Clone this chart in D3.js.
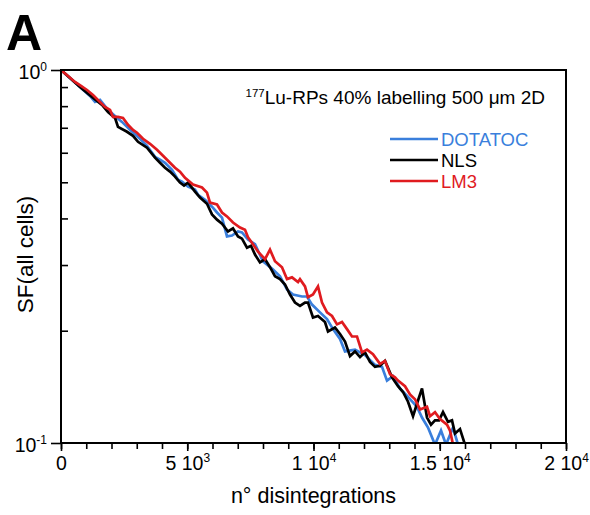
<!DOCTYPE html>
<html>
<head>
<meta charset="utf-8">
<script src="https://cdn.jsdelivr.net/npm/d3@7"></script>
<style>
  body { margin: 0; background: #fff; }
  text { font-family: "Liberation Sans", Arial, sans-serif; }
</style>
</head>
<body>
<svg id="chart"></svg>
<script>
// survival fraction vs number of disintegrations
const dotatocX = [0, 356, 752, 1149, 1347, 1545, 1861, 2139, 2416, 2733, 3129, 3406, 3723, 3921, 4119, 4396, 4634, 4792, 5030, 5307, 5426, 5703, 5980, 6178, 6376, 6574, 6772, 7010, 7168, 7406, 7683, 8000, 8396, 8673, 8950, 9188, 9545, 9743, 9941, 10257, 10535, 10772, 11050, 11248, 11644, 12040, 12436, 12713, 12911, 13149, 13426, 13743, 14099, 14297, 14535, 14812, 15050, 15248, 15525, 15723];
const dotatocSF = [1, 0.952, 0.901, 0.852, 0.821, 0.831, 0.782, 0.753, 0.726, 0.691, 0.654, 0.626, 0.585, 0.575, 0.564, 0.540, 0.508, 0.502, 0.487, 0.478, 0.463, 0.449, 0.430, 0.415, 0.402, 0.358, 0.360, 0.369, 0.367, 0.351, 0.341, 0.307, 0.292, 0.280, 0.258, 0.250, 0.247, 0.247, 0.235, 0.224, 0.215, 0.202, 0.190, 0.176, 0.178, 0.172, 0.162, 0.160, 0.147, 0.151, 0.140, 0.133, 0.125, 0.117, 0.110, 0.099, 0.108, 0.099, 0.110, 0.099];

const nlsX = [0, 356, 752, 1228, 1624, 1861, 2139, 2257, 2614, 2851, 3050, 3406, 3723, 3921, 4119, 4317, 4515, 4713, 4871, 5030, 5307, 5505, 5782, 5980, 6178, 6376, 6614, 6812, 7010, 7168, 7366, 7525, 7683, 7881, 8079, 8277, 8475, 8673, 8871, 9069, 9267, 9465, 9663, 9782, 9980, 10178, 10455, 10574, 10851, 11050, 11248, 11446, 11644, 11842, 12040, 12238, 12436, 12634, 12832, 13109, 13347, 13545, 13743, 13941, 14139, 14297, 14495, 14653, 14812, 14970, 15129, 15327, 15485, 15604, 15802, 16000];
const nlsSF = [1, 0.952, 0.901, 0.847, 0.806, 0.772, 0.744, 0.704, 0.683, 0.666, 0.642, 0.619, 0.582, 0.564, 0.547, 0.534, 0.518, 0.499, 0.490, 0.499, 0.472, 0.455, 0.438, 0.410, 0.397, 0.387, 0.369, 0.376, 0.358, 0.353, 0.334, 0.338, 0.320, 0.305, 0.311, 0.296, 0.280, 0.275, 0.266, 0.250, 0.238, 0.233, 0.238, 0.238, 0.217, 0.219, 0.211, 0.199, 0.204, 0.196, 0.187, 0.171, 0.176, 0.170, 0.175, 0.165, 0.160, 0.161, 0.166, 0.150, 0.142, 0.137, 0.129, 0.118, 0.130, 0.140, 0.117, 0.112, 0.115, 0.115, 0.121, 0.114, 0.115, 0.106, 0.109, 0.099];

const lm3X = [0, 277, 554, 792, 1030, 1267, 1545, 1743, 1941, 2059, 2257, 2455, 2653, 2851, 3010, 3248, 3525, 3802, 4119, 4317, 4515, 4713, 4911, 5228, 5584, 5782, 5901, 6178, 6376, 6574, 6812, 7089, 7287, 7406, 7604, 7802, 8079, 8277, 8475, 8752, 8950, 9149, 9386, 9465, 9663, 9782, 9980, 10178, 10337, 10535, 10733, 10931, 11129, 11327, 11525, 11723, 11921, 12119, 12356, 12634, 12832, 13030, 13228, 13347, 13624, 13822, 14020, 14218, 14495, 14614, 14812, 15010, 15287, 15406, 15525];
const lm3SF = [1, 0.964, 0.929, 0.906, 0.884, 0.857, 0.821, 0.796, 0.782, 0.749, 0.749, 0.744, 0.713, 0.691, 0.679, 0.654, 0.634, 0.611, 0.582, 0.564, 0.547, 0.534, 0.514, 0.493, 0.484, 0.469, 0.441, 0.436, 0.415, 0.405, 0.390, 0.378, 0.373, 0.356, 0.341, 0.326, 0.311, 0.330, 0.307, 0.296, 0.275, 0.278, 0.270, 0.275, 0.263, 0.246, 0.250, 0.263, 0.238, 0.224, 0.219, 0.208, 0.211, 0.202, 0.193, 0.193, 0.175, 0.178, 0.173, 0.163, 0.166, 0.153, 0.150, 0.147, 0.142, 0.135, 0.131, 0.123, 0.125, 0.118, 0.121, 0.116, 0.112, 0.108, 0.099];

const seriesNames = ["DOTATOC", "NLS", "LM3"];
const seriesColors = ["#3a7fdc", "#000000", "#e01b1f"];

const xMajorTicks = [0, 5000, 10000, 15000, 20000];
const xTickLabels = [["0", ""], ["5 10", "3"], ["1 10", "4"], ["1.5 10", "4"], ["2 10", "4"]];
const yMajorTicks = [1, 0.1];
const yTickLabels = [["10", "0"], ["10", "-1"]];

const W = 590, H = 515;
const M = { top: 70, right: 24, bottom: 72, left: 61 };
const INNER_W = W - M.left - M.right;
const INNER_H = H - M.top - M.bottom;

const svg = d3.select("#chart").attr("width", W).attr("height", H);

const x = d3.scaleLinear().domain([0, 20000]).range([M.left, M.left + INNER_W]);
const y = d3.scaleLog().domain([0.1, 1]).range([M.top + INNER_H, M.top]);

svg.append("defs").append("clipPath").attr("id", "plot")
  .append("rect")
  .attr("x", M.left).attr("y", M.top)
  .attr("width", INNER_W).attr("height", INNER_H);

// curves
const table = [
  dotatocX.map((d, i) => ({ x: d, y: dotatocSF[i] })),
  nlsX.map((d, i) => ({ x: d, y: nlsSF[i] })),
  lm3X.map((d, i) => ({ x: d, y: lm3SF[i] }))
];
const line = d3.line().x(d => x(d.x)).y(d => y(d.y));
svg.append("g").attr("clip-path", "url(#plot)")
  .selectAll("path")
  .data(table)
  .enter()
  .append("path")
  .attr("d", line)
  .attr("fill", "none")
  .attr("stroke", (d, i) => seriesColors[i])
  .attr("stroke-width", 2.7)
  .attr("stroke-linejoin", "miter");

// frame
svg.append("rect")
  .attr("x", M.left).attr("y", M.top)
  .attr("width", INNER_W).attr("height", INNER_H)
  .attr("fill", "none").attr("stroke", "#000").attr("stroke-width", 2);

// x axis: minor + major ticks, outward
const xMinor = d3.range(0, 20001, 1000);
svg.append("g")
  .attr("transform", `translate(0,${M.top + INNER_H})`)
  .call(d3.axisBottom(x).tickValues(xMinor).tickSize(6).tickFormat(""))
  .call(g => g.select(".domain").remove())
  .selectAll("line").attr("stroke-width", 1.6);

const xAx = svg.append("g")
  .attr("transform", `translate(0,${M.top + INNER_H})`)
  .call(d3.axisBottom(x).tickValues(xMajorTicks).tickSize(8).tickPadding(5).tickFormat(""));
xAx.select(".domain").remove();
xAx.selectAll("line").attr("stroke-width", 1.6);
xAx.selectAll(".tick text")
  .attr("font-size", 19.5).attr("fill", "#000")
  .each(function (d, i) {
    const t = d3.select(this);
    t.append("tspan").text(xTickLabels[i][0]);
    if (xTickLabels[i][1]) t.append("tspan").attr("dy", -8).attr("font-size", 12).text(xTickLabels[i][1]);
  });

// y axis: major ticks outward, minor ticks inward
const yMinor = d3.range(2, 10).map(v => v / 10);
const yIn = svg.append("g")
  .attr("transform", `translate(${M.left},0)`)
  .call(d3.axisRight(y).tickValues(yMinor).tickSize(7).tickFormat(""));
yIn.select(".domain").remove();
yIn.selectAll("line").attr("stroke-width", 1.6);

const yAx = svg.append("g")
  .attr("transform", `translate(${M.left},0)`)
  .call(d3.axisLeft(y).tickValues(yMajorTicks).tickSize(10).tickPadding(4).tickFormat(""));
yAx.select(".domain").remove();
yAx.selectAll("line").attr("stroke-width", 1.6);
yAx.selectAll(".tick text")
  .attr("font-size", 19.5).attr("fill", "#000").attr("dy", "0.45em")
  .each(function (d, i) {
    const t = d3.select(this);
    t.append("tspan").text(yTickLabels[i][0]);
    t.append("tspan").attr("dy", -8).attr("font-size", 12).text(yTickLabels[i][1]);
  });

// axis titles
svg.append("text")
  .attr("x", x(10000)).attr("y", 503)
  .attr("text-anchor", "middle").attr("font-size", 21.5)
  .text("n° disintegrations");
svg.append("text")
  .attr("transform", `translate(33,${y(Math.sqrt(0.1)) - 2}) rotate(-90)`)
  .attr("text-anchor", "middle").attr("font-size", 22.5)
  .text("SF(all cells)");

// panel letter
svg.append("text")
  .attr("x", 6).attr("y", 50)
  .attr("font-size", 50).attr("font-weight", "bold")
  .text("A");

// annotation
const note = svg.append("text")
  .attr("x", 545).attr("y", 104)
  .attr("text-anchor", "end").attr("font-size", 19);
note.append("tspan").attr("font-size", 11.5).attr("dy", -7).text("177");
note.append("tspan").attr("dy", 7).text("Lu-RPs 40% labelling 500 μm 2D");

// legend
const legend = svg.append("g");
seriesNames.forEach((name, i) => {
  const ly = 139 + i * 21;
  legend.append("line")
    .attr("x1", 390).attr("x2", 438).attr("y1", ly).attr("y2", ly)
    .attr("stroke", seriesColors[i]).attr("stroke-width", 2.7);
  legend.append("text")
    .attr("x", 441).attr("y", ly + 7)
    .attr("font-size", 18.5).attr("fill", seriesColors[i])
    .text(name);
});
</script>
</body>
</html>
